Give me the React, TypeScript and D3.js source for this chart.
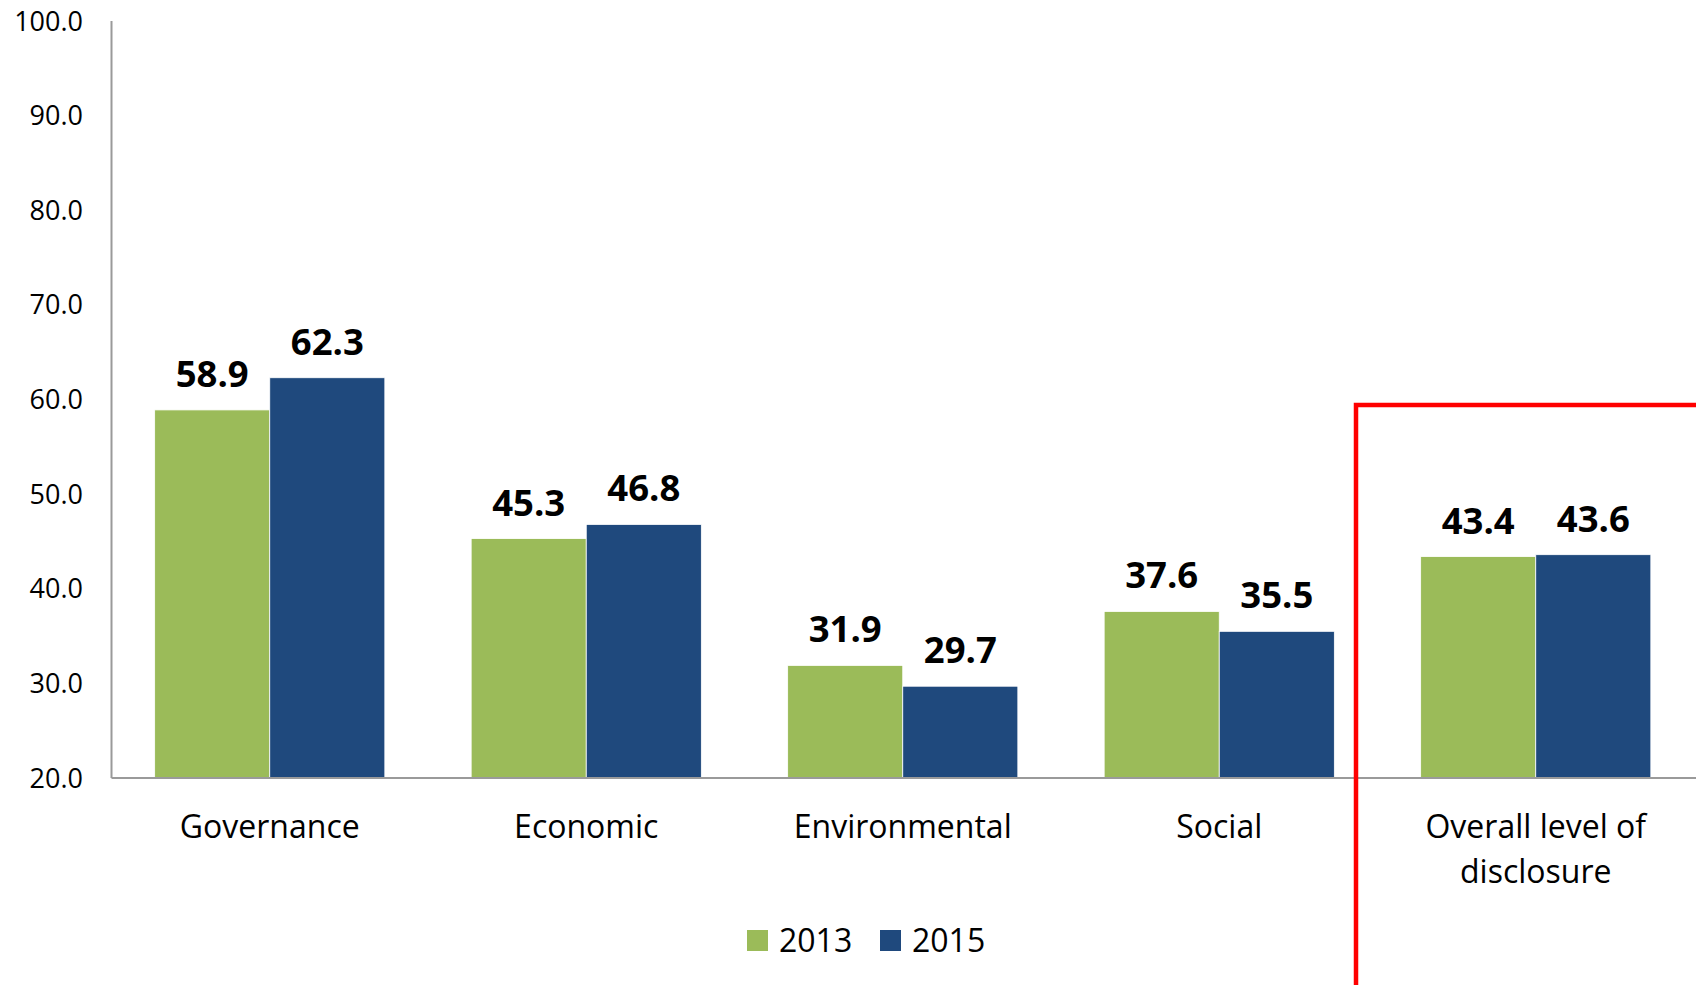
import React from "react";
import * as d3 from "d3";

const categories = ["Governance", "Economic", "Environmental", "Social", "Overall level of|disclosure"];
const seriesNames = ["2013", "2015"];
const values2013 = [58.9, 45.3, 31.9, 37.6, 43.4];
const values2015 = [62.3, 46.8, 29.7, 35.5, 43.6];
const yTicks = [20, 30, 40, 50, 60, 70, 80, 90, 100];
const colors = ["#9BBB59", "#1F497D"];

const W = 1696;
const H = 985;
const FONT = "'Open Sans', 'Noto Sans', sans-serif";

export default function App() {
  const left = 111.5;
  const right = left + 5 * 316.5;
  const y = d3.scaleLinear().domain([20, 100]).range([778, 21]);
  const x0 = d3.scaleBand<string>().domain(categories).range([left, right]).paddingInner(0).paddingOuter(0);
  const x1 = d3.scaleBand<string>().domain(seriesNames).range([0, x0.bandwidth()]).paddingInner(0).paddingOuter(0.375);
  const series = [values2013, values2015];

  return (
    <svg width={W} height={H} style={{ position: "absolute", left: 0, top: 0, display: "block", background: "#fff" }}>
      {categories.map((c, i) =>
        seriesNames.map((s, j) => {
          const v = series[j][i];
          const bx = (x0(c) as number) + (x1(s) as number);
          const bw = x1.bandwidth();
          return (
            <g key={c + s}>
              <rect x={bx} y={y(v)} width={bw} height={y(20) - y(v)} fill={colors[j]} stroke="#fff" strokeWidth={0.8} />
              <text x={bx + bw / 2} y={y(v) - 23} textAnchor="middle" fontFamily={FONT} fontWeight={700} fontSize={36.5} fill="#000">
                {v.toFixed(1)}
              </text>
            </g>
          );
        })
      )}
      <line x1={left} x2={left} y1={y(100)} y2={y(20)} stroke="#9a9a9a" strokeWidth={2} />
      <line x1={left} x2={W} y1={y(20)} y2={y(20)} stroke="#9a9a9a" strokeWidth={2} />
      {yTicks.map((t) => (
        <text key={t} x={83} y={y(t) + 9.5} textAnchor="end" fontFamily={FONT} fontSize={27} fill="#000">
          {t.toFixed(1)}
        </text>
      ))}
      {categories.map((c) => {
        const cx = (x0(c) as number) + x0.bandwidth() / 2;
        const lines = c.split("|");
        return (
          <text key={c} x={cx} y={838} textAnchor="middle" fontFamily={FONT} fontSize={32} fill="#000">
            {lines.map((l, k) => (
              <tspan key={k} x={cx} dy={k === 0 ? 0 : 45}>
                {l}
              </tspan>
            ))}
          </text>
        );
      })}
      {seriesNames.map((s, j) => {
        const lx = j === 0 ? 747 : 880;
        return (
          <g key={s}>
            <rect x={lx} y={930} width={21} height={21} fill={colors[j]} />
            <text x={lx + 32} y={952} fontFamily={FONT} fontSize={32} fill="#000">
              {s}
            </text>
          </g>
        );
      })}
      <path d={`M1356,${H + 10} L1356,405 L${W + 10},405`} fill="none" stroke="#ff0000" strokeWidth={4.5} />
    </svg>
  );
}
